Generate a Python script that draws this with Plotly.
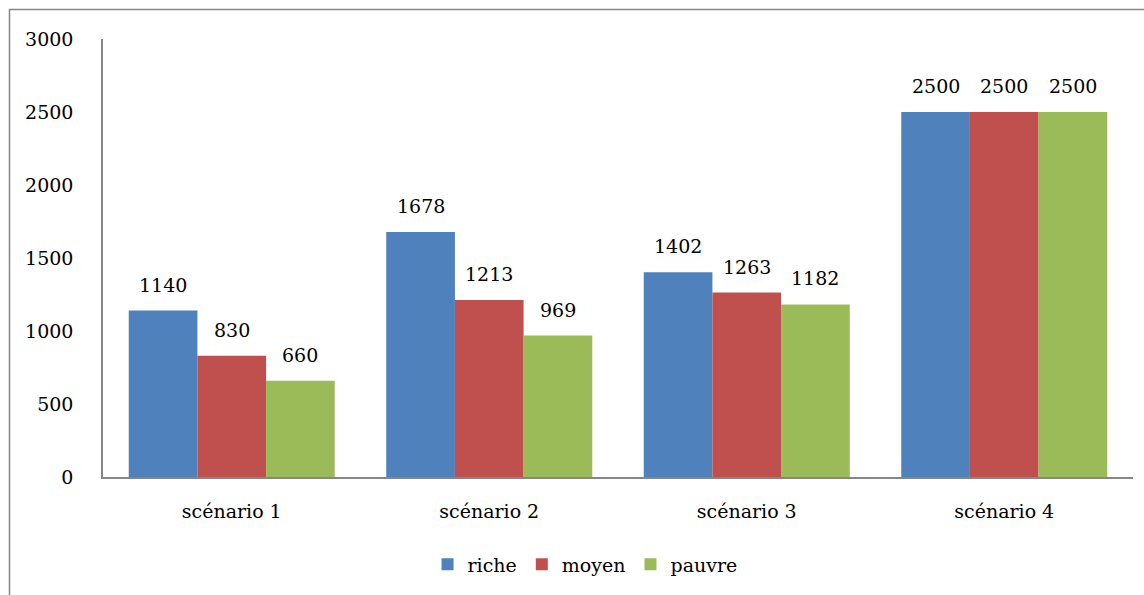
import plotly.graph_objects as go

# Data
categories = ["scénario 1", "scénario 2", "scénario 3", "scénario 4"]
riche = [1140, 1678, 1402, 2500]
moyen = [830, 1213, 1263, 2500]
pauvre = [660, 969, 1182, 2500]
series_names = ["riche", "moyen", "pauvre"]
colors = ["#4F81BD", "#C0504D", "#9BBB59"]
y_ticks = [0, 500, 1000, 1500, 2000, 2500, 3000]

W, H = 1144, 595
ML, MR, MT, MB = 103, 11, 39, 118
plot_w = W - ML - MR
plot_h = H - MT - MB
bargap = 0.2
group_px = plot_w / len(categories)
bar_px = group_px * (1 - bargap) / 3

FONT = "DejaVu Serif"
FS = 19

fig = go.Figure()
all_series = [riche, moyen, pauvre]
for name, vals, col in zip(series_names, all_series, colors):
    fig.add_trace(go.Bar(
        name=name, x=categories, y=vals,
        marker=dict(color=col, line=dict(width=0)),
    ))

# value labels above each bar
annotations = []
for i, vals in enumerate(all_series):
    shift = (i - 1) * bar_px
    for c, v in zip(categories, vals):
        annotations.append(dict(
            x=c, y=v, xref="x", yref="y", text=str(v), showarrow=False,
            xshift=shift, yshift=26, yanchor="middle",
            font=dict(family=FONT, size=FS, color="black"),
        ))

# outer chart border (top and left edges visible)
bx = (9.5 - ML) / plot_w
by = 1 + (MT - 9.5) / plot_h
shapes = [dict(type="rect", xref="paper", yref="paper",
               x0=bx, x1=2, y0=-2, y1=by,
               line=dict(color="#868686", width=1.5), layer="below")]

fig.update_layout(
    width=W, height=H,
    margin=dict(l=ML, r=MR, t=MT, b=MB),
    paper_bgcolor="white", plot_bgcolor="white",
    barmode="group", bargap=bargap, bargroupgap=0,
    font=dict(family=FONT, size=FS, color="black"),
    showlegend=True,
    legend=dict(orientation="h", x=0.468, xanchor="center", y=-0.156, yanchor="top",
                font=dict(family=FONT, size=FS), itemwidth=30, traceorder="normal"),
    annotations=annotations,
    shapes=shapes,
    xaxis=dict(showline=True, linecolor="#868686", linewidth=1.5, showgrid=False,
               ticks="", ticklabelstandoff=16, tickfont=dict(family=FONT, size=FS)),
    yaxis=dict(range=[0, 3000], tickvals=y_ticks, showline=True, linecolor="#868686",
               linewidth=1.5, showgrid=False, zeroline=False, ticks="",
               ticklabelstandoff=24, tickfont=dict(family=FONT, size=FS)),
)

fig.write_html("out.html")
